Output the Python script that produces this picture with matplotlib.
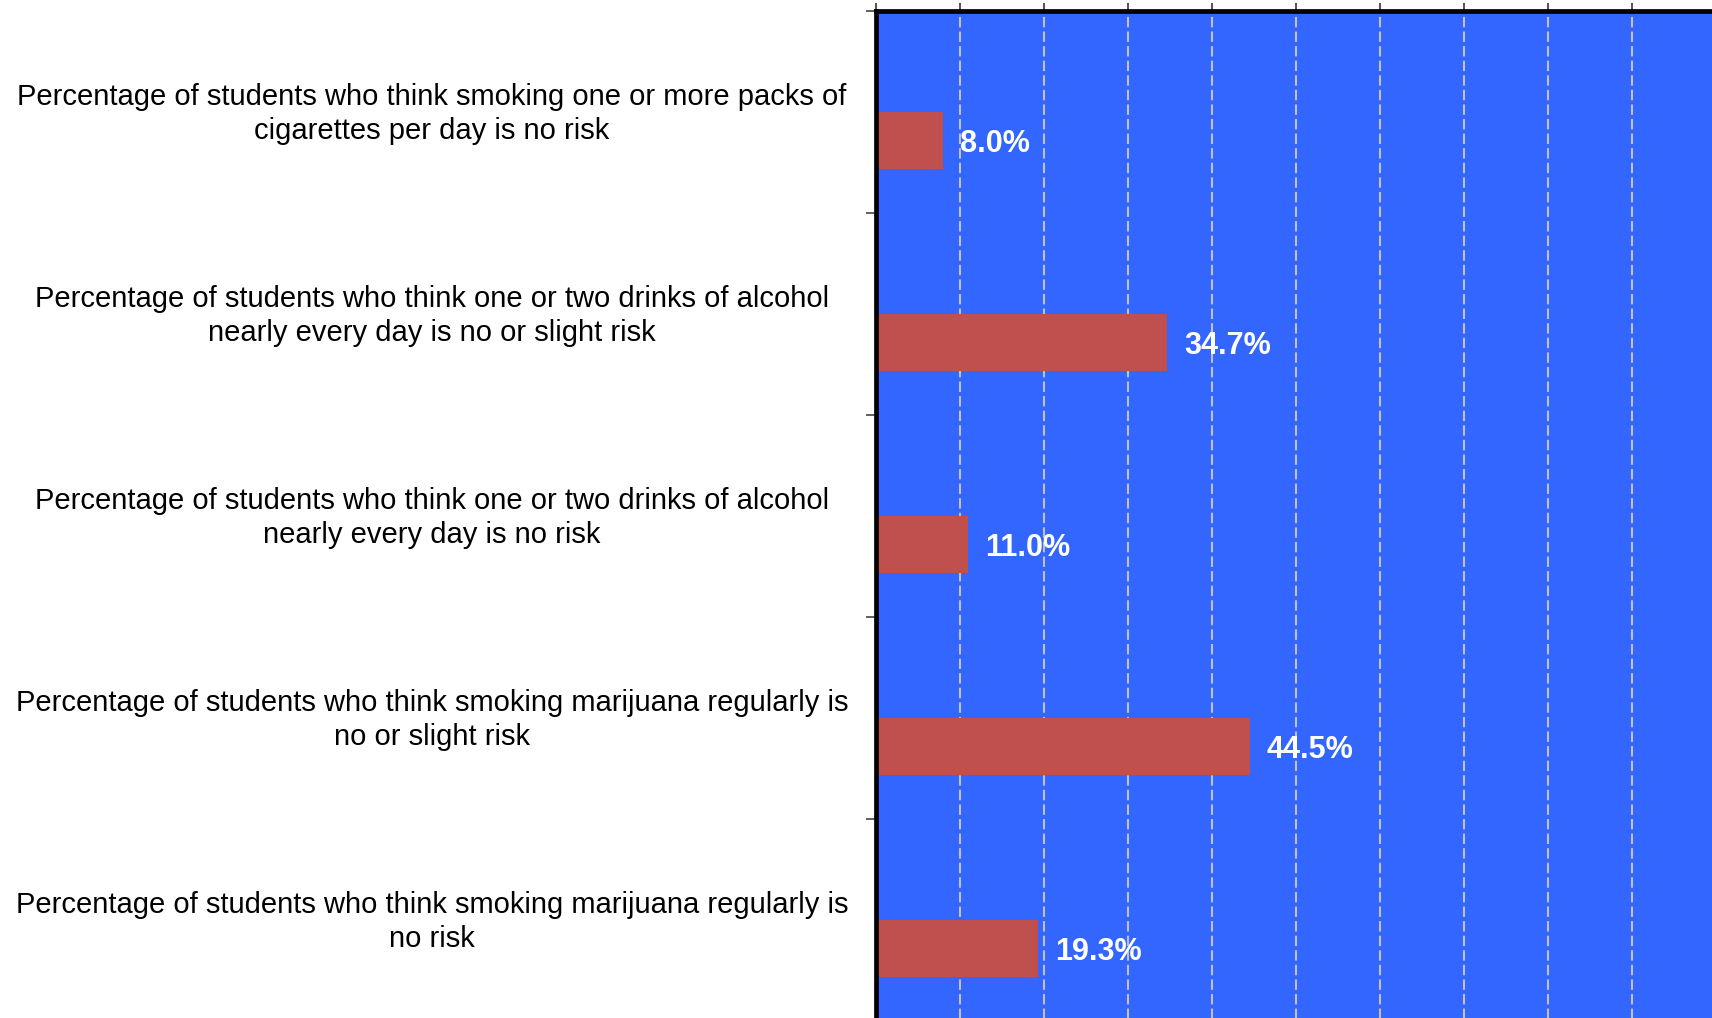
import matplotlib
matplotlib.use("Agg")
import matplotlib.pyplot as plt
import matplotlib.transforms as mtransforms
import numpy as np

labels = [
    "Percentage of students who think smoking one or more packs of\ncigarettes per day is no risk",
    "Percentage of students who think one or two drinks of alcohol\nnearly every day is no or slight risk",
    "Percentage of students who think one or two drinks of alcohol\nnearly every day is no risk",
    "Percentage of students who think smoking marijuana regularly is\nno or slight risk",
    "Percentage of students who think smoking marijuana regularly is\nno risk",
]
values = [8.0, 34.7, 11.0, 44.5, 19.3]
value_text = ["8.0%", "34.7%", "11.0%", "44.5%", "19.3%"]

plt.rcParams['font.family'] = ['Liberation Sans', 'DejaVu Sans']

fig = plt.figure(figsize=(17.12, 10.18), dpi=100)
ax = fig.add_axes([876/1712, -3/1018, 840/1712, 1010/1018])
ax.set_facecolor('#3366FF')

pos = np.arange(len(values))
# second (empty) series sits above each bar, so bars are shifted down half a slot
bar_h = 0.28
ax.barh(pos + bar_h/2, values, height=bar_h, color='#C0504D', zorder=2)

for y, v, t in zip(pos, values, value_text):
    ax.text(v + 2.0, y + bar_h/2, t, color='white', fontsize=22,
            fontweight='bold', va='center_baseline', ha='left', zorder=3)

ax.set_xlim(0, 100)
ax.set_ylim(len(values) - 0.5, -0.5)

ax.set_xticks(np.arange(0, 101, 10))
ax.xaxis.tick_top()
ax.tick_params(axis='x', labeltop=False, length=6, width=1.2, color='#333333')
ax.grid(axis='x', color='#C0C0C0', linestyle=(0, (5, 2)), linewidth=1.5, zorder=1)
ax.set_axisbelow(True)

ax.set_yticks(np.arange(-0.5, len(values), 1.0))
ax.set_yticklabels([])
ax.tick_params(axis='y', which='major', length=7, width=1.2, color='#444444')

# category labels, centred in the white area left of the axes
trans = mtransforms.blended_transform_factory(fig.transFigure, ax.transData)
for y, lab in zip(pos, labels):
    ax.text(432/1712, y + 0.01, lab, transform=trans, fontsize=21, ha='center',
            va='center', multialignment='center', linespacing=1.28, clip_on=False)

for side in ['top', 'left']:
    ax.spines[side].set_linewidth(3.4)
    ax.spines[side].set_color('black')
for side in ['right', 'bottom']:
    ax.spines[side].set_visible(False)

plt.savefig('out.png', dpi=100)
